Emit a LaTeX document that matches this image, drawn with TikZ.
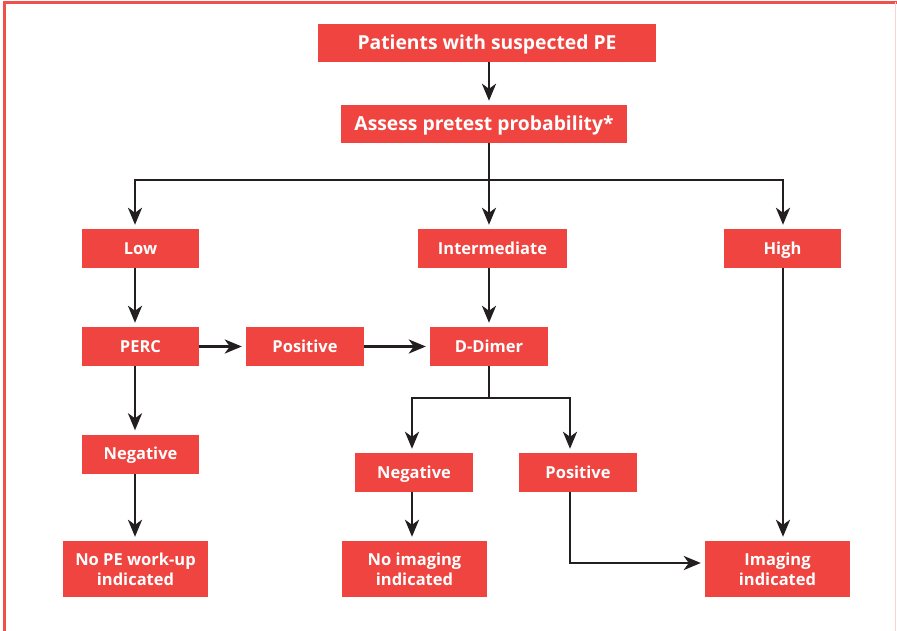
\documentclass[tikz,border=0pt]{standalone}
\usepackage{fontspec}
\setmainfont{Open Sans}
\usetikzlibrary{arrows.meta,calc}
\definecolor{boxred}{RGB}{239,68,64}
\definecolor{framered}{RGB}{240,80,76}
\definecolor{ink}{RGB}{35,31,32}
\begin{document}
\begin{tikzpicture}[x=1pt,y=-1pt,
  base/.style={fill=boxred,draw=none,text=white,inner sep=0pt,align=center},
  box/.style={base,font=\fontsize{16.5}{20}\selectfont\bfseries,
    minimum height=39pt,text height=11.8pt,text depth=0pt},
  bigbox/.style={base,font=\fontsize{19.3}{23}\selectfont\bfseries,
    minimum height=38pt,text height=13.8pt,text depth=0pt},
  twoline/.style={base,font=\fontsize{16.5}{20}\selectfont\bfseries,
    minimum height=56pt,minimum width=145pt},
  wire/.style={draw=ink,line width=2.8pt},
  arr/.style={wire,-{Stealth[length=17pt,width=14pt,inset=5pt]},shorten >=4pt}
]
\useasboundingbox (0,0) rectangle (897,631);
% frame lines
\draw[framered,line width=3pt] (4,631) -- (4,2.5) -- (897,2.5);
\draw[framered!25,line width=1pt] (895.5,2.5) -- (895.5,631);

% boxes
\node[bigbox,minimum width=338pt] (top)    at (487,43)    {Patients with suspected PE};
\node[bigbox,minimum width=286pt] (assess) at (484,124)   {Assess pretest probability*};
\node[box,minimum width=117pt] (low)   at (140.5,248.5) {Low};
\node[box,minimum width=149pt] (inter) at (492.5,248.5) {Intermediate};
\node[box,minimum width=117pt] (high)  at (782.5,248.5) {High};
\node[box,minimum width=117pt] (perc)  at (140.5,346.5) {PERC};
\node[box,minimum width=118pt] (posl)  at (305,346.5)   {Positive};
\node[box,minimum width=118pt] (dd)    at (489,346.5)   {D-Dimer};
\node[box,minimum width=117pt] (negl)  at (140.5,454)   {Negative};
\node[box,minimum width=118pt] (negm)  at (414,472.5)   {Negative};
\node[box,minimum width=118pt] (posm)  at (578,472.5)   {Positive};
\node[twoline] (nope)  at (135.5,569) {No PE work-up\\indicated};
\node[twoline] (noimg) at (414.5,569) {No imaging\\indicated};
\node[twoline] (img)   at (777.5,569) {Imaging\\indicated};

% connector columns and rows
\coordinate (xl) at (135,0);
\coordinate (xm) at (489,0);
\coordinate (xr) at (783,0);
\coordinate (xn) at (412,0);
\coordinate (xp) at (570,0);
\coordinate (split) at (489,180);
\coordinate (ddsplit) at (489,398);
\coordinate (yi) at (0,563);

% top part
\draw[arr] (top.south -| xm) -- (assess.north -| xm);
\draw[arr] (assess.south -| xm) -- (inter.north -| xm);
\draw[arr] (split) -| (low.north -| xl);
\draw[arr] (split) -| (high.north -| xr);

% low branch
\draw[arr] (low.south -| xl) -- (perc.north -| xl);
\draw[arr] (perc.south -| xl) -- (negl.north -| xl);
\draw[arr] (negl.south -| xl) -- (nope.north -| xl);
\draw[arr] (perc.east) -- (posl.west);
\draw[arr] (posl.east) -- (dd.west);

% intermediate branch
\draw[arr] (inter.south -| xm) -- (dd.north -| xm);
\draw[wire] (dd.south -| xm) -- (ddsplit);
\draw[arr] (ddsplit) -| (negm.north -| xn);
\draw[arr] (ddsplit) -| (posm.north -| xp);
\draw[arr] (negm.south -| xn) -- (noimg.north -| xn);
\draw[arr] (posm.south -| xp) |- (img.west |- yi);

% high branch
\draw[arr] (high.south -| xr) -- (img.north -| xr);
\end{tikzpicture}
\end{document}
